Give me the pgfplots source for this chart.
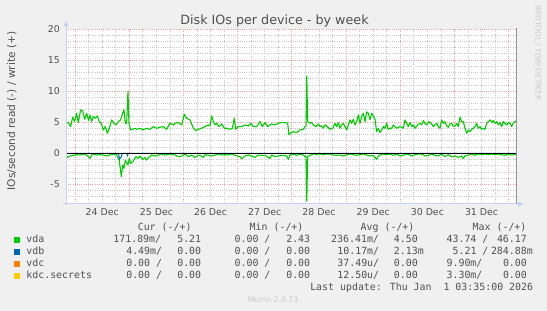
\documentclass[border=0pt]{standalone}
\usepackage{pgfplots}
\pgfplotsset{compat=1.18}
\usepackage{fontspec}
\setmainfont{DejaVu Sans}
\newfontfamily\monof{DejaVu Sans Mono}
\definecolor{bg}{RGB}{240,240,240}
\definecolor{txt}{RGB}{80,80,80}
\definecolor{mgrid}{RGB}{236,160,160}
\definecolor{mingrid}{RGB}{200,200,200}
\definecolor{axc}{RGB}{200,208,248}
\definecolor{rborder}{RGB}{150,150,150}
\definecolor{faint}{RGB}{200,200,200}
\definecolor{cvda}{RGB}{0,204,0}
\definecolor{cvdb}{RGB}{0,102,179}
\definecolor{cvdc}{RGB}{255,128,0}
\definecolor{ckdc}{RGB}{255,204,0}
\newcommand\tickf{\fontsize{9.4bp}{11bp}\selectfont}
\newcommand\legf{\monof\fontsize{9.915bp}{12bp}\selectfont}
\newcommand\pp[2]{(#1bp,311bp-#2bp)}
\newcommand\lt[3]{\node[anchor=base west,inner sep=0pt,font=\legf,text=txt] at \pp{#1}{#2} {#3};}
\newcommand\sq[3]{\fill[#1] \pp{14}{#2} rectangle \pp{20.2}{#3};}
\begin{document}
\begin{tikzpicture}
\fill[bg] (0bp,0bp) rectangle (547bp,311bp);
\begin{axis}[
  at={(66bp,107bp)}, anchor=south west,
  width=450bp, height=175bp, scale only axis,
  xmin=-0.168, xmax=8.135, ymin=-8.15, ymax=20,
  axis line style={draw=none},
  axis background/.style={fill=white},
  xtick={0,1,2,3,4,5,6,7,8}, xticklabels={},
  minor xtick={0.25,0.5,0.75,1.25,1.5,1.75,2.25,2.5,2.75,3.25,3.5,3.75,4.25,4.5,4.75,5.25,5.5,5.75,6.25,6.5,6.75,7.25,7.5,7.75},
  ytick={-5,0,5,10,15,20},
  yticklabels={-5,0,5,10,15,20},
  minor ytick={-8,-7,-6,-4,-3,-2,-1,1,2,3,4,6,7,8,9,11,12,13,14,16,17,18,19},
  grid=both,
  major grid style={color=mgrid, dash pattern=on 1bp off 1.2bp, line width=0.8bp},
  minor grid style={color=mingrid, dash pattern=on 1bp off 1.2bp, line width=0.8bp},
  major tick length=0pt, minor tick length=0pt,
  extra x ticks={0.5,1.5,2.5,3.5,4.5,5.5,6.5,7.5},
  extra x tick labels={24 Dec,25 Dec,26 Dec,27 Dec,28 Dec,29 Dec,30 Dec,31 Dec},
  extra x tick style={grid=none},
  tick label style={font=\tickf, text=txt, inner sep=0pt},
  yticklabel style={anchor=base east, xshift=-6bp, yshift=-3.4bp},
  xticklabel style={anchor=base, yshift=-12bp},
]
% vda write (+)
\addplot[cvda, line width=1.1bp, line join=round] coordinates {
(-0.168,4.84) (-0.125,4.95) (-0.082,4.30) (-0.045,5.81) (-0.009,5.11) (0.028,6.45) (0.059,4.95) (0.102,6.99) (0.139,6.88) (0.176,5.48) (0.213,6.45) (0.250,5.27) (0.274,6.18) (0.305,5.11) (0.336,5.91) (0.373,5.65) (0.410,6.02) (0.446,5.11) (0.483,4.84) (0.520,3.76) (0.557,4.30) (0.594,3.23) (0.631,4.03) (0.674,5.38) (0.717,4.84) (0.754,4.57) (0.797,5.11) (0.840,5.38) (0.877,6.45) (0.902,6.99) (0.926,4.84) (0.951,4.84) (0.975,9.95) (0.994,4.84) (1.025,3.76) (1.062,3.87) (1.105,4.03) (1.135,3.87) (1.197,4.03) (1.258,3.76) (1.320,4.03) (1.381,3.87) (1.443,4.30) (1.504,4.03) (1.566,4.19) (1.627,4.30) (1.689,3.87) (1.750,4.84) (1.812,4.57)
(1.843,4.84) (1.904,4.95) (1.966,4.57) (2.015,6.29) (2.058,5.65) (2.120,5.38) (2.181,4.03) (2.224,3.66) (2.274,3.87) (2.335,4.03) (2.397,4.30) (2.458,4.57) (2.489,4.41) (2.520,6.02) (2.550,5.11) (2.581,4.57) (2.612,4.84) (2.655,4.30) (2.704,4.73) (2.753,4.03) (2.796,4.03) (2.858,3.87) (2.901,4.03) (2.938,5.65) (2.962,3.87) (3.011,4.30) (3.073,4.30) (3.134,4.57) (3.196,4.41) (3.245,4.84) (3.288,4.30) (3.350,4.30) (3.411,5.11) (3.454,4.30) (3.503,4.95) (3.553,4.30) (3.626,4.73) (3.688,4.57) (3.749,4.84) (3.811,4.95) (3.872,4.95) (3.922,4.84) (3.946,2.96)
(3.965,3.23) (4.027,3.49) (4.088,3.33) (4.150,3.76) (4.211,3.87) (4.242,4.30) (4.262,4.40) (4.275,12.40) (4.290,5.11) (4.334,4.84) (4.365,4.95) (4.396,4.57) (4.445,4.30) (4.488,4.73) (4.518,4.30) (4.549,4.41) (4.580,4.03) (4.611,4.57) (4.654,4.30) (4.703,3.87) (4.752,4.03) (4.795,4.84) (4.826,4.30) (4.857,4.95) (4.887,4.03) (4.918,4.57) (4.949,4.84) (4.980,4.30) (5.011,3.76) (5.041,4.57) (5.072,5.38) (5.103,4.84) (5.134,5.48) (5.164,4.57) (5.195,5.11) (5.226,6.18) (5.257,4.84) (5.287,5.91) (5.318,6.45) (5.349,5.11) (5.380,6.67) (5.410,6.45) (5.441,5.38) (5.472,6.45) (5.503,6.02) (5.533,5.48) (5.564,3.49) (5.595,4.03) (5.626,3.33) (5.656,3.76) (5.687,4.30) (5.718,4.03) (5.749,4.84) (5.779,3.87) (5.810,4.03) (5.841,4.03) (5.872,4.57) (5.933,4.03) (5.995,4.30) (6.056,4.03) (6.087,5.38) (6.118,4.84) (6.149,4.30)
(6.179,4.95) (6.210,4.30) (6.241,4.57) (6.272,4.03) (6.321,4.57) (6.364,4.84) (6.395,4.57) (6.425,5.27) (6.456,4.84) (6.487,4.57) (6.530,5.11) (6.579,4.73) (6.610,4.30) (6.641,4.57) (6.671,4.84) (6.702,4.30) (6.733,4.03) (6.764,5.38) (6.794,4.84) (6.825,5.11) (6.856,4.41) (6.887,4.19) (6.917,4.73) (6.948,4.84) (6.979,4.30) (7.010,4.41) (7.040,4.84) (7.071,4.30) (7.102,5.81) (7.133,5.11) (7.163,5.11) (7.194,4.03) (7.225,3.23) (7.256,3.76) (7.286,3.49) (7.317,3.87) (7.348,4.03) (7.379,4.30) (7.409,4.84) (7.440,4.03) (7.471,4.30) (7.502,3.87) (7.532,4.03) (7.563,3.87) (7.594,4.84) (7.625,5.11) (7.655,5.38) (7.686,4.95) (7.717,5.27) (7.748,4.84) (7.778,5.11) (7.809,4.57) (7.840,4.95) (7.871,4.30) (7.901,5.11) (7.932,4.84) (7.963,4.57) (7.994,4.95) (8.024,4.84) (8.055,4.30) (8.086,4.95) (8.117,5.11) (8.135,5.21)
};
% vda read (-)
\addplot[cvda, line width=1.1bp, line join=round] coordinates {
(-0.168,-0.27) (-0.143,-0.65) (-0.095,-0.43) (-0.033,-0.32) (0.028,-0.22) (0.090,-0.27) (0.151,-0.11) (0.213,-0.27) (0.274,-0.81) (0.305,-0.27) (0.336,-0.11) (0.397,-0.27) (0.459,-0.22) (0.520,-0.27) (0.582,-0.43) (0.643,-0.27) (0.705,-0.11) (0.766,-0.27) (0.815,-1.08) (0.852,-3.76) (0.877,-1.88) (0.902,-2.42) (0.926,-1.08) (0.951,-1.51) (0.975,-1.88) (1.000,-0.81) (1.025,-1.61) (1.062,-1.34) (1.086,-1.08) (1.123,-0.54) (1.166,-0.81) (1.197,-0.43) (1.246,-0.97) (1.289,-0.65) (1.320,-1.08) (1.369,-0.54) (1.412,-0.27) (1.474,-0.43) (1.535,-0.27) (1.597,-0.11) (1.658,-0.27) (1.750,-0.11) (1.843,-0.27) (1.904,-0.54) (1.966,-0.43) (2.027,-0.11) (2.089,-0.54) (2.150,-0.27) (2.212,-0.65) (2.274,-0.32) (2.335,-0.43) (2.366,-0.65) (2.397,-0.22) (2.458,-0.32) (2.520,-0.43) (2.581,-0.27) (2.643,-0.11) (2.704,-0.27) (2.766,-0.22) (2.827,-0.27) (2.889,-0.11) (2.950,-0.32) (3.042,-0.54) (3.073,-0.86) (3.134,-0.43) (3.196,-0.27) (3.257,-0.43) (3.319,-0.65) (3.380,-0.27) (3.442,-0.32) (3.503,-0.32) (3.596,-0.81) (3.626,-0.27) (3.688,-0.54) (3.749,-0.43) (3.811,-0.32) (3.903,-0.43) (3.934,-0.97) (3.965,-0.27) (4.027,-0.11) (4.088,-0.32) (4.150,-0.11) (4.211,-0.27) (4.242,-0.54) (4.262,-0.40) (4.275,-7.70) (4.290,-0.54) (4.334,-0.32) (4.396,-0.11) (4.457,-0.16) (4.518,-0.11) (4.580,-0.22) (4.642,-0.11) (4.703,-0.11) (4.765,-0.27) (4.826,-0.32) (4.887,-0.27) (4.949,-0.43) (5.011,-0.22) (5.072,-0.11) (5.134,-0.22) (5.195,-0.32) (5.257,-0.22) (5.318,-0.11) (5.380,-0.27) (5.441,-0.43) (5.503,-0.32) (5.564,-0.97) (5.595,-0.43) (5.626,-0.27) (5.687,-0.11) (5.749,-0.22) (5.810,-0.11) (5.872,-0.32) (5.933,-0.11) (5.995,-0.43) (6.056,-0.32) (6.118,-0.11) (6.179,-0.27) (6.210,-0.43) (6.272,-0.22) (6.333,-0.11) (6.395,-0.11) (6.456,-0.43) (6.518,-0.32) (6.579,-0.11) (6.641,-0.32) (6.702,-0.43) (6.764,-0.11) (6.825,-0.54) (6.887,-0.22) (6.948,-0.54) (7.010,-0.43) (7.071,-0.65) (7.133,-0.43) (7.163,-0.86) (7.194,-0.43) (7.256,-0.27) (7.317,-0.11) (7.379,-0.32) (7.440,-0.11) (7.502,-0.22) (7.563,-0.11) (7.625,-0.22) (7.686,-0.11) (7.748,-0.22) (7.809,-0.11) (7.871,-0.22) (7.932,-0.32) (7.994,-0.11) (8.055,-0.27) (8.135,-0.17)
};
% vdb
\addplot[cvdb, line width=1bp] coordinates {(-0.168,0) (0.80,0) (0.82,-0.9) (0.85,-0.6) (0.87,0) (0.955,0) (0.965,-0.35) (0.98,0) (8.135,0)};
% vdc, kdc.secrets
\addplot[cvdc, line width=1bp] coordinates {(-0.168,0) (8.135,0)};
\addplot[ckdc, line width=1bp] coordinates {(-0.168,0) (8.135,0)};
% zero rule
\addplot[black, line width=1bp] coordinates {(-0.168,0) (8.135,0)};
\end{axis}
% axis lines
\draw[axc, line width=1bp] \pp{66}{205} -- \pp{66}{26};
\fill[axc] \pp{63.3}{26.5} -- \pp{68.7}{26.5} -- \pp{66}{21} -- cycle;
\draw[axc, line width=1bp] \pp{63}{204} -- \pp{518}{204};
\fill[axc] \pp{518}{201.3} -- \pp{518}{206.7} -- \pp{523.5}{204} -- cycle;
\draw[rborder, line width=1bp] \pp{516}{204} -- \pp{516}{28.5};
% title and labels
\node[anchor=base, inner sep=0pt, font=\fontsize{12.7bp}{14bp}\selectfont, text=txt] at \pp{274.5}{24.3} {Disk IOs per device - by week};
\node[anchor=base, inner sep=0pt, rotate=90, font=\fontsize{10.6bp}{12bp}\selectfont, text=txt] at \pp{15.2}{111} {IOs/second read (-) / write (+)};
\node[anchor=base west, inner sep=0pt, rotate=-90, font=\fontsize{7.4bp}{9bp}\selectfont, text=faint] at \pp{535.5}{5} {RRDTOOL / TOBI OETIKER};
% legend
\lt{137.6}{230.9}{Cur (-/+)}
\lt{249.5}{230.9}{Min (-/+)}
\lt{360.5}{230.9}{Avg (-/+)}
\lt{472.5}{230.9}{Max (-/+)}
\sq{cvda}{243.3}{237.1}
\sq{cvdb}{255.2}{249.0}
\sq{cvdc}{267.1}{260.9}
\sq{ckdc}{279.0}{272.8}
\lt{26.2}{242.8}{vda}
\lt{113.2}{242.8}{171.89m/}
\lt{177.1}{242.8}{5.21}
\lt{234.4}{242.8}{0.00 /}
\lt{286.1}{242.8}{2.43}
\lt{331.0}{242.8}{236.41m/}
\lt{393.7}{242.8}{4.50}
\lt{446.4}{242.8}{43.74 /}
\lt{496.8}{242.8}{46.17}
\lt{26.2}{254.7}{vdb}
\lt{126.1}{254.7}{4.49m/}
\lt{177.1}{254.7}{0.00}
\lt{234.4}{254.7}{0.00 /}
\lt{286.1}{254.7}{0.00}
\lt{337.2}{254.7}{10.17m/}
\lt{393.7}{254.7}{2.13m}
\lt{452.4}{254.7}{5.21 /}
\lt{490.8}{254.7}{284.88m}
\lt{26.2}{266.6}{vdc}
\lt{126.1}{266.6}{0.00 /}
\lt{177.1}{266.6}{0.00}
\lt{234.4}{266.6}{0.00 /}
\lt{286.1}{266.6}{0.00}
\lt{337.2}{266.6}{37.49u/}
\lt{393.7}{266.6}{0.00}
\lt{446.4}{266.6}{9.90m/}
\lt{502.8}{266.6}{0.00}
\lt{26.2}{278.5}{kdc.secrets}
\lt{126.1}{278.5}{0.00 /}
\lt{177.1}{278.5}{0.00}
\lt{234.4}{278.5}{0.00 /}
\lt{286.1}{278.5}{0.00}
\lt{337.2}{278.5}{12.50u/}
\lt{393.7}{278.5}{0.00}
\lt{446.4}{278.5}{3.30m/}
\lt{502.8}{278.5}{0.00}
\node[anchor=base east,inner sep=0pt,font=\legf,text=txt] at \pp{533.3}{290.6} {Last update: Thu Jan\ \ 1 03:35:00 2026};
\node[anchor=base, inner sep=0pt, font=\fontsize{7.7bp}{9bp}\selectfont, text=faint] at \pp{273}{302.3} {Munin 2.0.73};
\pgfresetboundingbox
\path[use as bounding box] (0bp,0bp) rectangle (547bp,311bp);
\end{tikzpicture}
\end{document}
